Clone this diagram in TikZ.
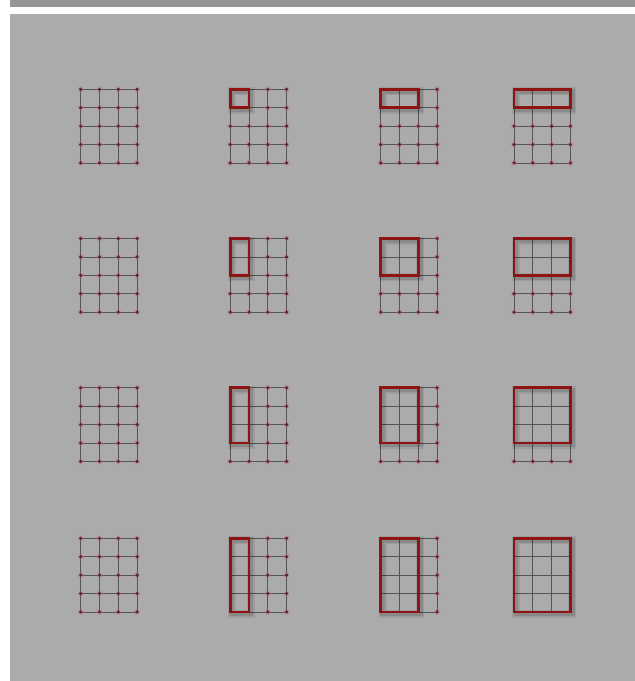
\documentclass[tikz,border=0pt]{standalone}
\definecolor{panel}{HTML}{ABABAB}
\definecolor{bar}{HTML}{959595}
\definecolor{framec}{HTML}{8E1414}
\definecolor{dotc}{HTML}{5E2430}
\definecolor{haloc}{HTML}{C07080}
\definecolor{gridc}{HTML}{545454}
\tikzset{
  gridline/.style={draw=gridc,line width=0.75},
  framebox/.style={draw=framec,line width=2.8},
  shadowwide/.style={draw=black,opacity=0.08,line width=8},
  shadownarrow/.style={draw=black,opacity=0.12,line width=4.5},
}
\begin{document}
\begin{tikzpicture}[x=1pt,y=-1pt]
\useasboundingbox (0,0) rectangle (635,681);
\fill[white] (0,0) rectangle (635,681);
\fill[bar] (10,0) rectangle (635,7);
\fill[panel] (10,14) rectangle (635,681);
\def\dx{18.8}
\def\dy{18.4}
\foreach \c/\X in {0/80.7,1/230.2,2/380.7,3/514.0}{
  \foreach \r/\Y in {1/89.3,2/238.5,3/387.8,4/538.3}{
    % grid lines
    \foreach \i in {0,...,3}{
      \draw[gridline] (\X+\i*\dx,\Y) -- (\X+\i*\dx,\Y+4*\dy);
    }
    \foreach \j in {0,...,4}{
      \draw[gridline] (\X,\Y+\j*\dy) -- (\X+3*\dx,\Y+\j*\dy);
    }
    % dots
    \foreach \i in {0,...,3}{
      \foreach \j in {0,...,4}{
        \pgfmathtruncatemacro\show{(\c==0)||(\i>\c)||(\j>\r)}
        \ifnum\show=1
          \fill[haloc,opacity=0.35] (\X+\i*\dx,\Y+\j*\dy) circle (3.2);
          \fill[dotc] (\X+\i*\dx,\Y+\j*\dy) circle (1.8);
        \fi
      }
    }
    % frame with shadow
    \ifnum\c>0
      \draw[shadowwide] (\X+2,\Y+2) rectangle ++(\c*\dx,\r*\dy);
      \draw[shadownarrow] (\X+2,\Y+2) rectangle ++(\c*\dx,\r*\dy);
      \draw[framebox] (\X,\Y) rectangle ++(\c*\dx,\r*\dy);
    \fi
  }
}
\end{tikzpicture}
\end{document}
